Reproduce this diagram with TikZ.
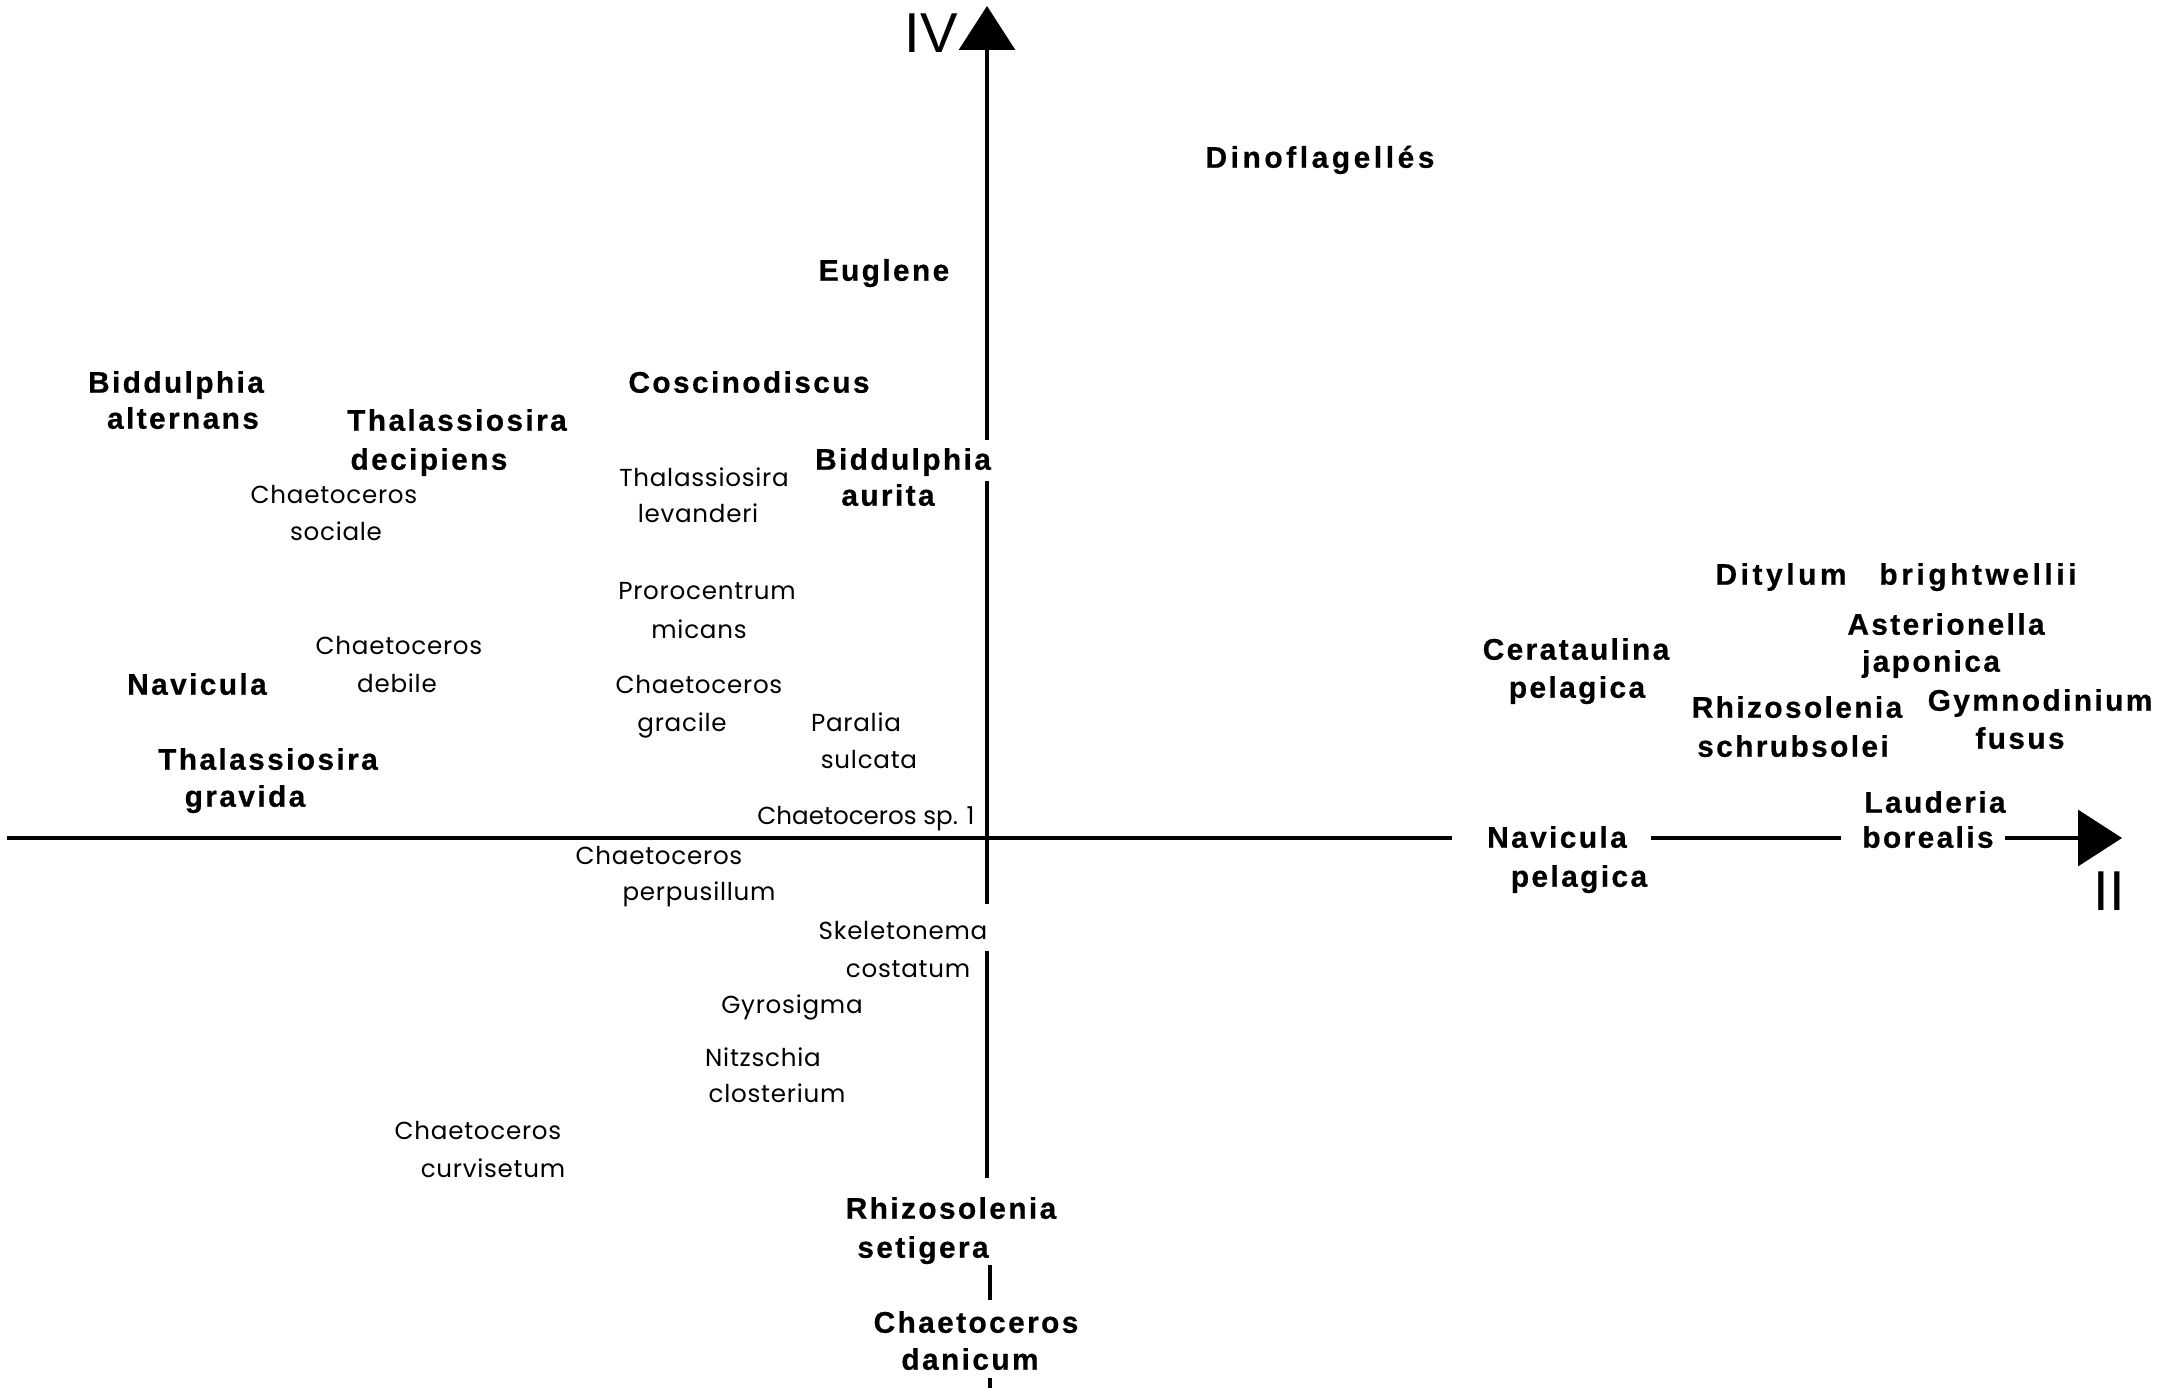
\documentclass[tikz,border=0pt]{standalone}
\usepackage{fontspec}
\setmainfont{Liberation Sans}
\newfontfamily\boldfont{Liberation Sans}[LetterSpace=8, BoldFeatures={FakeBold=0.6}]
\newfontfamily\boldwide{Liberation Sans}[LetterSpace=12, BoldFeatures={FakeBold=0.6}]
\newfontfamily\lightfont{Poppins}[LetterSpace=3]
\newfontfamily\lighttight{Poppins}[LetterSpace=0]
\newfontfamily\axisfont{Liberation Sans}
\usetikzlibrary{arrows.meta}
\begin{document}
\begin{tikzpicture}[x=0.02cm,y=-0.02cm,
  heavy/.style={font=\boldfont\bfseries\fontsize{17}{19}\selectfont,
    inner sep=0pt, text height=12.2pt, text depth=0pt},
  heavywide/.style={heavy, font=\boldwide\bfseries\fontsize{17}{19}\selectfont},
  thin/.style={font=\lightfont\fontsize{14}{16}\selectfont,
    inner sep=0pt, text height=9.8pt, text depth=0pt},
  axislabel/.style={font=\axisfont\fontsize{32}{34}\selectfont,
    inner sep=0pt, text height=22.6pt, text depth=0pt},
  axis/.style={line width=1.8pt},
  tip/.style={-{Triangle[length=0.88cm,width=1.12cm]}}]
\useasboundingbox (0,0) rectangle (2179,1387);

% axis ends and breaks
\coordinate (vTop) at (987,6);
\coordinate (vA) at (987,440);
\coordinate (vB) at (987,481);
\coordinate (vC) at (987,904);
\coordinate (vD) at (987,951);
\coordinate (vE) at (987,1178);
\coordinate (vF) at (990,1265);
\coordinate (vG) at (990,1300);
\coordinate (vH) at (990,1378);
\coordinate (vI) at (990,1390);
\coordinate (hA) at (7,838);
\coordinate (hB) at (1452,838);
\coordinate (hC) at (1651,838);
\coordinate (hD) at (1841,838);
\coordinate (hE) at (2005,838);
\coordinate (hTip) at (2122,838);

% axes
\draw[axis,tip] (vA) -- (vTop);
\draw[axis] (vB) -- (vC);
\draw[axis] (vD) -- (vE);
\draw[axis] (vF) -- (vG);
\draw[axis] (vH) -- (vI);
\draw[axis] (hA) -- (hB);
\draw[axis] (hC) -- (hD);
\draw[axis,tip] (hE) -- (hTip);

\node[axislabel] (axIV) at (931,33) {IV};
\node[axislabel] (axII) at (2109,891) {II};

% bold labels
\node[heavywide] (dino) at (1320,157) {Dinoflagellés};
\node[heavy] (eug) at (884,270) {Euglene};
\node[heavy] (bidalt1) at (176,382) {Biddulphia};
\node[heavy] (bidalt2) at (183,418) {alternans};
\node[heavy] (thdec1) at (457,420) {Thalassiosira};
\node[heavy] (thdec2) at (429,459) {decipiens};
\node[heavy] (cosc) at (749,382) {Coscinodiscus};
\node[heavy] (bidaur1) at (903,459) {Biddulphia};
\node[heavy] (bidaur2) at (888,495) {aurita};
\node[heavy] (nav) at (197,684) {Navicula};
\node[heavy] (thgr1) at (268,759) {Thalassiosira};
\node[heavy] (thgr2) at (245,796) {gravida};
\node[heavywide] (dit) at (1896,574) {Ditylum\hspace{1.1em}brightwellii};
\node[heavy] (ast1) at (1946,624) {Asterionella};
\node[heavy] (ast2) at (1931,661) {japonica};
\node[heavy] (cer1) at (1576,649) {Cerataulina};
\node[heavy] (cer2) at (1577,687) {pelagica};
\node[heavy] (rhs1) at (1797,707) {Rhizosolenia};
\node[heavy] (rhs2) at (1793,746) {schrubsolei};
\node[heavy] (gym1) at (2040,700) {Gymnodinium};
\node[heavy] (gym2) at (2020,738) {fusus};
\node[heavy] (lau1) at (1935,802) {Lauderia};
\node[heavy] (lau2) at (1928,837) {borealis};
\node[heavy] (navp1) at (1557,837) {Navicula};
\node[heavy] (navp2) at (1579,876) {pelagica};
\node[heavy] (rset1) at (951,1208) {Rhizosolenia};
\node[heavy] (rset2) at (923,1247) {setigera};
\node[heavy] (cdan1) at (976,1322) {Chaetoceros};
\node[heavy] (cdan2) at (970,1359) {danicum};

% light labels
\node[thin] (csoc1) at (334,495) {Chaetoceros};
\node[thin] (csoc2) at (336,532) {sociale};
\node[thin] (tlev1) at (704,478) {Thalassiosira};
\node[thin] (tlev2) at (698,514) {levanderi};
\node[thin] (pror1) at (707,591) {Prorocentrum};
\node[thin] (pror2) at (699,630) {micans};
\node[thin] (cdeb1) at (399,646) {Chaetoceros};
\node[thin] (cdeb2) at (397,684) {debile};
\node[thin] (cgra1) at (699,685) {Chaetoceros};
\node[thin] (cgra2) at (682,723) {gracile};
\node[thin] (par1) at (856,723) {Paralia};
\node[thin] (par2) at (869,760) {sulcata};
\node[thin, font=\lighttight\fontsize{14}{16}\selectfont] (csp) at (866,816) {Chaetoceros sp. 1};
\node[thin] (cper1) at (659,856) {Chaetoceros};
\node[thin] (cper2) at (699,892) {perpusillum};
\node[thin] (skel1) at (903,931) {Skeletonema};
\node[thin] (skel2) at (908,969) {costatum};
\node[thin] (gyro) at (792,1005) {Gyrosigma};
\node[thin] (nitz1) at (763,1058) {Nitzschia};
\node[thin] (nitz2) at (777,1094) {closterium};
\node[thin] (ccur1) at (478,1131) {Chaetoceros};
\node[thin] (ccur2) at (493,1169) {curvisetum};
\end{tikzpicture}
\end{document}
